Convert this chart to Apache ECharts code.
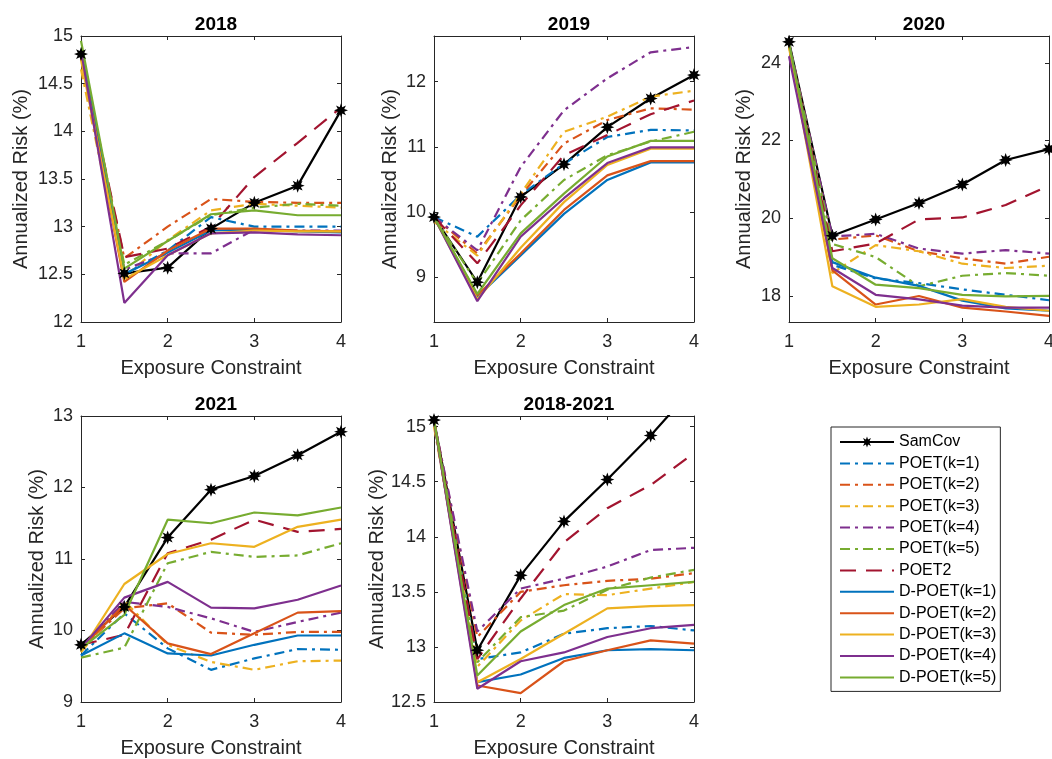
<!DOCTYPE html>
<html>
<head>
<meta charset="utf-8">
<script src="https://cdn.jsdelivr.net/npm/echarts@6/dist/echarts.min.js"></script>
<style>html,body{margin:0;padding:0;background:#fff}#chart{width:1052px;height:759px}</style>
</head>
<body>
<div id="chart"></div>
<script>
// ---------------- DATA ----------------
const exposure = [1, 1.5, 2, 2.5, 3, 3.5, 4];
const xTicks = [1, 2, 3, 4];
const seriesNames = ['SamCov', 'POET(k=1)', 'POET(k=2)', 'POET(k=3)', 'POET(k=4)', 'POET(k=5)', 'POET2',
  'D-POET(k=1)', 'D-POET(k=2)', 'D-POET(k=3)', 'D-POET(k=4)', 'D-POET(k=5)'];
const panelTitles = ['2018', '2019', '2020', '2021', '2018-2021'];

// rows follow seriesNames order
const risk2018 = [
  [14.81, 12.51, 12.57, 12.98, 13.25, 13.43, 14.22],
  [14.82, 12.50, 12.75, 13.10, 13.00, 13.00, 13.00],
  [14.78, 12.67, 13.00, 13.29, 13.26, 13.25, 13.25],
  [14.65, 12.47, 12.86, 13.17, 13.24, 13.22, 13.20],
  [14.80, 12.55, 12.72, 12.72, 12.97, 12.96, 12.96],
  [14.85, 12.60, 12.85, 13.12, 13.20, 13.24, 13.22],
  [14.80, 12.68, 12.77, 13.00, 13.52, 13.88, 14.25],
  [14.85, 12.50, 12.73, 12.96, 12.97, 12.95, 12.94],
  [14.80, 12.42, 12.75, 12.98, 12.98, 12.96, 12.95],
  [14.75, 12.45, 12.70, 12.93, 12.96, 12.95, 12.95],
  [14.85, 12.20, 12.70, 12.93, 12.94, 12.92, 12.91],
  [14.95, 12.56, 12.85, 13.13, 13.17, 13.12, 13.12]
];
const risk2019 = [
  [9.92, 8.92, 10.23, 10.73, 11.30, 11.74, 12.10],
  [9.92, 9.62, 10.26, 10.74, 11.15, 11.26, 11.25],
  [9.92, 9.36, 10.25, 11.05, 11.41, 11.59, 11.57],
  [9.85, 9.33, 10.28, 11.23, 11.46, 11.77, 11.86],
  [9.92, 9.41, 10.69, 11.56, 12.05, 12.45, 12.53],
  [9.92, 8.90, 9.87, 10.49, 10.87, 11.08, 11.23],
  [9.92, 9.21, 10.10, 10.87, 11.18, 11.50, 11.71],
  [9.92, 8.70, 9.33, 9.97, 10.49, 10.76, 10.76],
  [9.92, 8.72, 9.36, 10.03, 10.56, 10.78, 10.78],
  [9.92, 8.66, 9.45, 10.15, 10.72, 10.97, 10.97],
  [9.92, 8.63, 9.62, 10.21, 10.75, 10.99, 10.99],
  [9.92, 8.74, 9.67, 10.28, 10.85, 11.09, 11.09]
];
const risk2020 = [
  [24.54, 19.55, 19.97, 20.39, 20.87, 21.50, 21.78],
  [24.50, 18.80, 18.45, 18.33, 18.17, 18.03, 17.89],
  [24.50, 19.45, 19.56, 19.15, 18.97, 18.83, 19.01],
  [24.45, 18.59, 19.31, 19.15, 18.83, 18.72, 18.78],
  [24.50, 19.53, 19.60, 19.22, 19.09, 19.18, 19.09],
  [24.50, 19.34, 19.00, 18.25, 18.52, 18.59, 18.52],
  [24.50, 19.15, 19.35, 19.97, 20.02, 20.34, 20.84],
  [24.50, 18.87, 18.47, 18.26, 17.88, 17.68, 17.62],
  [24.45, 18.66, 17.78, 18.00, 17.70, 17.60, 17.49],
  [24.40, 18.25, 17.72, 17.78, 17.92, 17.72, 17.62],
  [24.17, 18.72, 18.03, 17.91, 17.75, 17.70, 17.70],
  [24.50, 18.97, 18.29, 18.20, 18.03, 17.99, 18.00]
];
const risk2021 = [
  [9.80, 10.33, 11.30, 11.97, 12.16, 12.45, 12.78],
  [9.65, 10.24, 9.75, 9.45, 9.61, 9.74, 9.73],
  [9.75, 10.31, 10.38, 9.97, 9.94, 9.98, 9.98],
  [9.70, 10.41, 9.80, 9.56, 9.45, 9.57, 9.58],
  [9.75, 10.40, 10.33, 10.17, 9.98, 10.12, 10.25],
  [9.62, 9.76, 10.94, 11.10, 11.03, 11.05, 11.22],
  [9.80, 9.94, 11.08, 11.27, 11.55, 11.38, 11.42],
  [9.65, 9.96, 9.68, 9.65, 9.80, 9.93, 9.93],
  [9.75, 10.36, 9.82, 9.67, 9.96, 10.25, 10.27],
  [9.70, 10.65, 11.07, 11.22, 11.17, 11.45, 11.55],
  [9.75, 10.46, 10.68, 10.32, 10.31, 10.43, 10.63],
  [9.75, 10.22, 11.55, 11.50, 11.65, 11.61, 11.72]
];
const risk2018to2021 = [
  [15.06, 12.97, 13.65, 14.14, 14.52, 14.92, 15.36],
  [15.05, 12.89, 12.95, 13.12, 13.17, 13.19, 13.15],
  [15.05, 13.09, 13.50, 13.56, 13.60, 13.62, 13.67],
  [15.00, 12.82, 13.24, 13.48, 13.47, 13.53, 13.59],
  [15.05, 13.14, 13.53, 13.62, 13.73, 13.88, 13.90],
  [15.05, 12.86, 13.27, 13.33, 13.52, 13.63, 13.70],
  [15.05, 12.89, 13.44, 13.95, 14.26, 14.47, 14.76],
  [15.05, 12.68, 12.75, 12.90, 12.97, 12.98, 12.97],
  [15.05, 12.65, 12.58, 12.87, 12.97, 13.06, 13.03],
  [15.05, 12.68, 12.89, 13.12, 13.35, 13.37, 13.38],
  [15.05, 12.62, 12.87, 12.95, 13.09, 13.17, 13.20],
  [15.06, 12.74, 13.14, 13.38, 13.53, 13.56, 13.59]
];
const panelData = [risk2018, risk2019, risk2020, risk2021, risk2018to2021];

const yTicks2018 = [12, 12.5, 13, 13.5, 14, 14.5, 15];
const yTicks2019 = [9, 10, 11, 12];
const yTicks2020 = [18, 20, 22, 24];
const yTicks2021 = [9, 10, 11, 12, 13];
const yTicks2018to2021 = [12.5, 13, 13.5, 14, 14.5, 15];
const panelYTicks = [yTicks2018, yTicks2019, yTicks2020, yTicks2021, yTicks2018to2021];
const yMin = [12, 8.31, 17.33, 9, 12.5];
const yMax = [15, 12.70, 24.69, 13, 15.097];

// ---------------- STYLE / LAYOUT ----------------
const FONT = '"Liberation Sans", Arial, Helvetica, sans-serif';
const AX = '#262626';
const colors = ['#000000', '#0072BD', '#D95319', '#EDB120', '#7E2F8E', '#77AC30', '#A2142F',
  '#0072BD', '#D95319', '#EDB120', '#7E2F8E', '#77AC30'];
const DASHDOT = [10, 5, 3, 5];
const DASHED = [16, 10];
function lineType(i) {
  if (i >= 1 && i <= 5) return DASHDOT;
  if (i === 6) return DASHED;
  return 'solid';
}
const grids = [
  { left: 81, top: 36 }, { left: 434, top: 36 }, { left: 789, top: 36 },
  { left: 81, top: 416 }, { left: 434, top: 416 }
];
const GW = 260, GH = 286;
const yNameGap = [50, 34, 35, 34, 44];

function asteriskPath() {
  const n = 8, ro = 10, ri = 5;
  const pts = [];
  for (let i = 0; i < 2 * n; i++) {
    const r = i % 2 ? ri : ro;
    const a = Math.PI * i / n - Math.PI / 2;
    pts.push((r * Math.cos(a)).toFixed(3) + ' ' + (r * Math.sin(a)).toFixed(3));
  }
  return 'path://M' + pts.join(' L') + ' Z';
}
const ASTER = asteriskPath();

const legendData = seriesNames.map((n, i) => i === 0
  ? { name: n }
  : { name: n, itemStyle: { color: 'rgba(0,0,0,0)', borderColor: 'rgba(0,0,0,0)', borderWidth: 0 } });

const option = {
  animation: false,
  backgroundColor: '#fff',
  textStyle: { fontFamily: FONT },
  title: panelTitles.map((t, p) => ({
    text: t, left: grids[p].left + GW / 2, top: grids[p].top - 26, textAlign: 'center',
    textStyle: { fontSize: 19, fontWeight: 'bold', color: '#000', fontFamily: FONT }
  })),
  legend: {
    data: legendData, orient: 'vertical', left: 831, top: 427,
    itemWidth: 54, itemHeight: 14, itemGap: 5.4, padding: [7, 4, 6, 8],
    borderColor: AX, borderWidth: 1, backgroundColor: '#fff', selectedMode: false,
    textStyle: { fontSize: 16, color: '#000', fontFamily: FONT }, itemTextGap: 7
  },
  grid: grids.map(g => ({ left: g.left, top: g.top, width: GW, height: GH, containLabel: false, outerBoundsMode: 'none' })),
  xAxis: [], yAxis: [], series: []
};

grids.forEach((g, p) => {
  const axLine = { show: true, lineStyle: { color: AX, width: 1 } };
  const tick = { show: true, inside: true, length: 4, lineStyle: { color: AX } };
  option.xAxis.push({
    type: 'value', gridIndex: p, min: 1, max: 4, interval: 1, position: 'bottom',
    axisLine: axLine, axisTick: tick, splitLine: { show: false },
    axisLabel: { fontSize: 18, color: AX, margin: 11, fontFamily: FONT },
    name: 'Exposure Constraint', nameLocation: 'middle', nameGap: 36,
    nameTextStyle: { fontSize: 20, color: AX, fontFamily: FONT }
  });
  option.xAxis.push({
    type: 'value', gridIndex: p, min: 1, max: 4, interval: 1, position: 'top',
    axisLine: axLine, axisTick: tick, splitLine: { show: false }, axisLabel: { show: false }
  });
  option.yAxis.push({
    type: 'value', gridIndex: p, min: yMin[p], max: yMax[p], position: 'left',
    axisLine: axLine, axisTick: Object.assign({}, tick, { customValues: panelYTicks[p] }),
    splitLine: { show: false },
    axisLabel: { fontSize: 18, color: AX, margin: 8, fontFamily: FONT, customValues: panelYTicks[p] },
    name: 'Annualized Risk (%)', nameLocation: 'middle', nameGap: yNameGap[p],
    nameTextStyle: { fontSize: 20, color: AX, fontFamily: FONT }
  });
  option.yAxis.push({
    type: 'value', gridIndex: p, min: yMin[p], max: yMax[p], position: 'right',
    axisLine: axLine, axisTick: Object.assign({}, tick, { customValues: panelYTicks[p] }),
    splitLine: { show: false }, axisLabel: { show: false }
  });
  panelData[p].forEach((vals, s) => {
    option.series.push({
      type: 'line', name: seriesNames[s], xAxisIndex: p * 2, yAxisIndex: p * 2,
      data: exposure.map((x, i) => [x, vals[i]]),
      symbol: s === 0 ? ASTER : 'none', symbolSize: 14, showSymbol: s === 0,
      clip: true, silent: true,
      lineStyle: { color: colors[s], width: 2.2, type: lineType(s) },
      itemStyle: { color: colors[s] },
      emphasis: { disabled: true }
    });
  });
});

const chart = echarts.init(document.getElementById('chart'), null, { renderer: 'canvas' });
chart.setOption(option);
</script>
</body>
</html>
